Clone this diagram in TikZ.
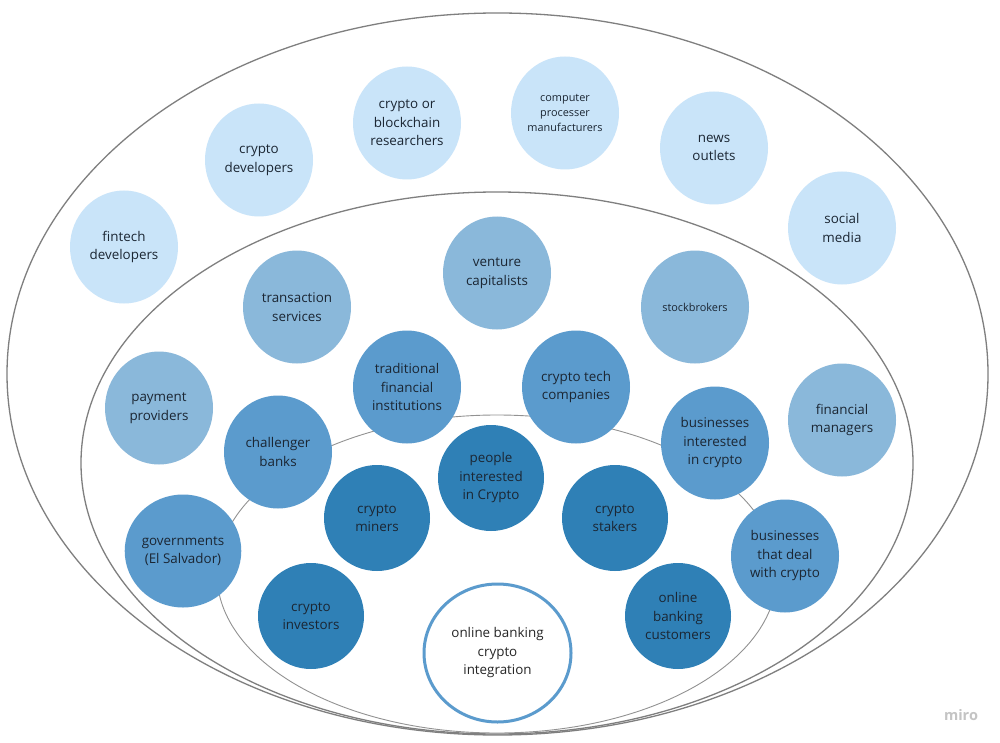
\documentclass[tikz,border=0pt]{standalone}
\usepackage{fontspec}
\setmainfont{Open Sans}
\usetikzlibrary{shapes.geometric}
\definecolor{lightc}{HTML}{C9E4F9}
\definecolor{midc}{HTML}{8AB8DA}
\definecolor{medc}{HTML}{5B9BCD}
\definecolor{darkc}{HTML}{2F80B6}
\definecolor{txt}{HTML}{1B2633}
\definecolor{ringc}{HTML}{7F7F7F}
\definecolor{wmark}{HTML}{C4C4C4}
\begin{document}
\begin{tikzpicture}[x=1pt,y=-1pt,
  bub/.style={ellipse, draw=none, inner sep=0pt, minimum width=108pt, minimum height=113pt,
    align=center, text=txt, font=\fontsize{13.4}{18.5}\selectfont},
  lt/.style={bub, fill=lightc},
  md/.style={bub, fill=midc},
  mdd/.style={bub, fill=medc},
  dk/.style={bub, fill=darkc, minimum width=106pt, minimum height=106pt},
  small/.style={font=\fontsize{10.9}{14.8}\selectfont},
  ring/.style={draw=ringc, line width=1.3pt},
  innerring/.style={draw=ringc!85, line width=0.9pt}]
\useasboundingbox (0,0) rectangle (1000,743);
\fill[white] (0,0) rectangle (1000,743);
% rings
\draw[ring] (497.5,374) ellipse [x radius=490.5pt, y radius=361pt];
\draw[ring] (497,463) ellipse [x radius=416pt, y radius=271pt];
\draw[innerring] (497,574) ellipse [x radius=280pt, y radius=159pt];
% outer ring
\node[lt] (fintech) at (124,247) {fintech\\developers};
\node[lt] (cdev) at (259,160) {crypto\\developers};
\node[lt] (research) at (407,123) {crypto or\\blockchain\\researchers};
\node[lt,small] (cpu) at (565,113) {computer\\processer\\manufacturers};
\node[lt] (news) at (714,148) {news\\outlets};
\node[lt] (social) at (842,228) {social\\media};
% middle ring
\node[md] (trans) at (297,307) {transaction\\services};
\node[md] (venture) at (497,273) {venture\\capitalists};
\node[md,small] (stock) at (695,307) {stockbrokers};
\node[md] (payment) at (159,408) {payment\\providers};
\node[md] (finman) at (842,420) {financial\\managers};
% medium circles
\node[mdd] (trad) at (407,387) {traditional\\financial\\institutions};
\node[mdd] (ctech) at (576,387) {crypto tech\\companies};
\node[mdd] (challenger) at (278,452) {challenger\\banks};
\node[mdd] (bint) at (715,443) {businesses\\interested\\in crypto};
\node[mdd, minimum width=116pt] (gov) at (183,551) {governments\\(El Salvador)};
\node[mdd] (bdeal) at (785,556) {businesses\\that deal\\with crypto};
% dark circles
\node[dk] (people) at (491,478) {people\\interested\\in Crypto};
\node[dk] (miners) at (377,518) {crypto\\miners};
\node[dk] (stakers) at (615,518) {crypto\\stakers};
\node[dk] (investors) at (311,616) {crypto\\investors};
\node[dk] (obc) at (678,616) {online\\banking\\customers};
% center
\node[bub, fill=white, draw=medc, line width=3pt, minimum width=147pt, minimum height=138pt, text=black!85] (core) at (497.5,653) {online banking\\crypto\\integration};
% watermark
\node[text=wmark, font=\fontsize{14.5}{14.5}\selectfont\bfseries] (miro) at (961,715) {miro};
\end{tikzpicture}
\end{document}
